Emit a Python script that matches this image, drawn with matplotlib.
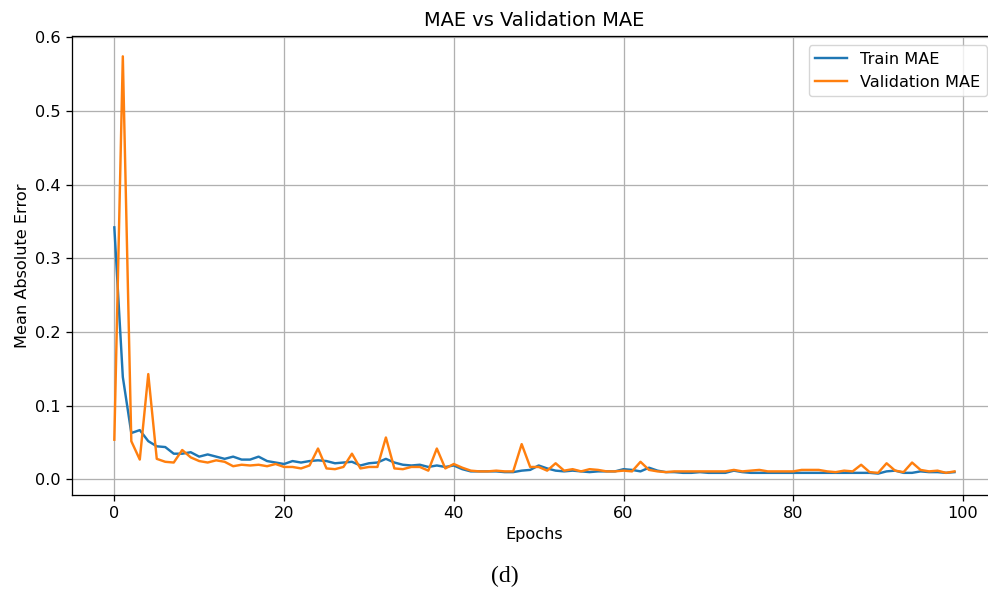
import matplotlib.pyplot as plt
import numpy as np

# Trainings- und Validierungs-MAE pro Epoche
train_mae = [
    0.342, 0.139, 0.063, 0.067, 0.052, 0.045, 0.044, 0.035, 0.035, 0.037,
    0.031, 0.034, 0.031, 0.028, 0.031, 0.027, 0.027, 0.031, 0.025, 0.023,
    0.021, 0.025, 0.023, 0.025, 0.026, 0.025, 0.022, 0.023, 0.024, 0.019,
    0.022, 0.023, 0.028, 0.023, 0.020, 0.019, 0.020, 0.017, 0.019, 0.017,
    0.019, 0.014, 0.011, 0.011, 0.011, 0.011, 0.010, 0.010, 0.012, 0.013,
    0.019, 0.015, 0.012, 0.011, 0.012, 0.011, 0.010, 0.011, 0.011, 0.011,
    0.014, 0.013, 0.011, 0.016, 0.012, 0.010, 0.010, 0.009, 0.009, 0.010,
    0.009, 0.009, 0.009, 0.012, 0.010, 0.009, 0.009, 0.009, 0.009, 0.009,
    0.009, 0.009, 0.009, 0.009, 0.009, 0.009, 0.009, 0.009, 0.009, 0.009,
    0.008, 0.011, 0.012, 0.009, 0.009, 0.011, 0.010, 0.010, 0.009, 0.010,
]
val_mae = [
    0.054, 0.574, 0.052, 0.027, 0.143, 0.028, 0.024, 0.023, 0.040, 0.030,
    0.025, 0.023, 0.026, 0.024, 0.018, 0.020, 0.019, 0.020, 0.018, 0.021,
    0.017, 0.017, 0.015, 0.019, 0.042, 0.015, 0.014, 0.017, 0.035, 0.015,
    0.017, 0.017, 0.057, 0.015, 0.014, 0.017, 0.017, 0.012, 0.042, 0.015,
    0.021, 0.016, 0.012, 0.011, 0.011, 0.012, 0.011, 0.011, 0.048, 0.017,
    0.017, 0.012, 0.022, 0.012, 0.014, 0.011, 0.014, 0.013, 0.011, 0.011,
    0.012, 0.011, 0.024, 0.013, 0.011, 0.010, 0.011, 0.011, 0.011, 0.011,
    0.011, 0.011, 0.011, 0.013, 0.011, 0.012, 0.013, 0.011, 0.011, 0.011,
    0.011, 0.013, 0.013, 0.013, 0.011, 0.010, 0.012, 0.011, 0.020, 0.010,
    0.009, 0.022, 0.012, 0.010, 0.023, 0.013, 0.011, 0.012, 0.009, 0.011,
]
epochs = np.arange(len(train_mae))

# Das Original wirkt leicht hochskaliert (~1.16x)
s = 1.16
plt.rcParams.update({
    'font.size': 10 * s,
    'axes.linewidth': 0.8 * s,
    'grid.linewidth': 0.8 * s,
    'lines.linewidth': 1.5 * s,
    'xtick.major.size': 3.5 * s,
    'ytick.major.size': 3.5 * s,
    'xtick.major.width': 0.8 * s,
    'ytick.major.width': 0.8 * s,
    'xtick.major.pad': 3.5 * s,
    'ytick.major.pad': 3.5 * s,
})

fig = plt.figure(figsize=(9.88, 5.92), dpi=100)
ax = fig.add_axes([0.0732, 0.1639, 0.9354, 0.7758])

ax.plot(epochs, train_mae, label='Train MAE')
ax.plot(epochs, val_mae, label='Validation MAE')

ax.set_title('MAE vs Validation MAE', fontsize=12 * s, pad=6 * s)
ax.set_xlabel('Epochs')
ax.set_ylabel('Mean Absolute Error')
ax.set_ylim(-0.021, 0.602)
ax.grid(True)
ax.legend(loc='upper right', borderaxespad=0.6)

# Bildunterschrift
fig.text(0.511, 0.027, '(d)', ha='center', va='center',
         fontsize=17, family='Liberation Serif')

fig.savefig('out.png', dpi=100)
